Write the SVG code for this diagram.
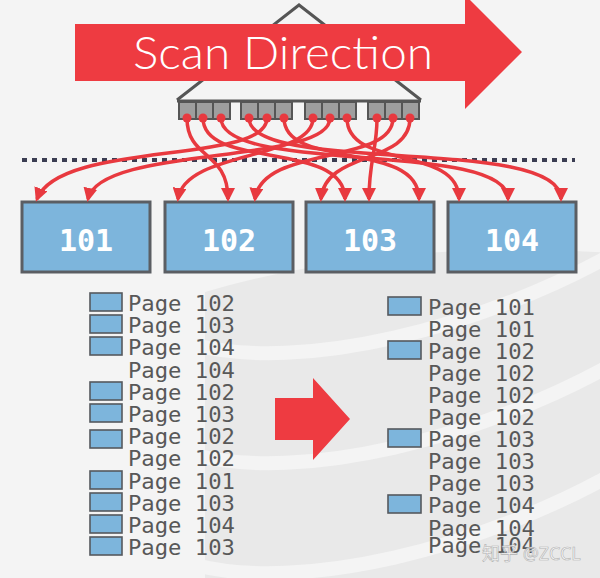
<svg xmlns="http://www.w3.org/2000/svg" width="600" height="578" viewBox="0 0 600 578">
<defs>
<style>
.slot{fill:#9e9e9e;stroke:#555;stroke-width:2}
.page{fill:#7db5dc;stroke:#5b5e63;stroke-width:3}
.plabel{font-family:"DejaVu Sans Mono",monospace;font-weight:bold;font-size:30px;fill:#fff;text-anchor:middle}
.row{font-family:"DejaVu Sans Mono",monospace;font-size:21px;fill:#585858}
.mini{fill:#7db5dc;stroke:#55595e;stroke-width:1.6}
.edge{fill:none;stroke:#e8393f;stroke-width:3.5}
.dot{fill:#e8393f}
</style>
<marker id="ah" markerUnits="userSpaceOnUse" markerWidth="14" markerHeight="14" refX="11" refY="7" orient="auto">
<path d="M0,0 L14,7 L0,14 z" fill="#e8393f"/>
</marker>
</defs>
<rect width="600" height="578" fill="#f4f4f4"/>
<g id="watermark-logo" fill="#e9e9e9">
<path d="M205,578 L205,292 Q400,235 640,255 L640,578 Z"/>
<path d="M195,345 C300,372 480,330 620,250" fill="none" stroke="#f4f4f4" stroke-width="14"/>
<path d="M195,455 C300,482 480,440 620,360" fill="none" stroke="#f4f4f4" stroke-width="14"/>
<path d="M195,565 C300,592 480,550 620,470" fill="none" stroke="#f4f4f4" stroke-width="14"/>
</g>
<g id="index-tree">
<polyline points="177,100 299,5 421,100" fill="none" stroke="#555" stroke-width="3"/>
<line x1="177" y1="101" x2="421" y2="101" stroke="#555" stroke-width="3"/>
<rect class="slot" x="179" y="102" width="17" height="17"/>
<rect class="slot" x="196" y="102" width="17" height="17"/>
<rect class="slot" x="213" y="102" width="17" height="17"/>
<rect class="slot" x="241" y="102" width="17" height="17"/>
<rect class="slot" x="258" y="102" width="17" height="17"/>
<rect class="slot" x="275" y="102" width="17" height="17"/>
<rect class="slot" x="305" y="102" width="17" height="17"/>
<rect class="slot" x="322" y="102" width="17" height="17"/>
<rect class="slot" x="339" y="102" width="17" height="17"/>
<rect class="slot" x="368" y="102" width="17" height="17"/>
<rect class="slot" x="385" y="102" width="17" height="17"/>
<rect class="slot" x="402" y="102" width="17" height="17"/>
</g>
<g id="scan-direction">
<polygon points="75,24 465,24 465,-5 522,52 465,109 465,81 75,81" fill="#ee3b41"/>
<text x="133" y="69" font-family="Lato, Open Sans, sans-serif" font-weight="300" font-size="46" fill="#fff" textLength="300" lengthAdjust="spacingAndGlyphs">Scan Direction</text>
</g>
<line id="divider" x1="22" y1="160" x2="575" y2="160" stroke="#3b3d52" stroke-width="4" stroke-dasharray="5 5"/>
<g id="page-101"><rect class="page" x="22" y="202" width="128" height="70"/><text class="plabel" x="86" y="251">101</text></g>
<g id="page-102"><rect class="page" x="165" y="202" width="128" height="70"/><text class="plabel" x="229" y="251">102</text></g>
<g id="page-103"><rect class="page" x="306" y="202" width="128" height="70"/><text class="plabel" x="370" y="251">103</text></g>
<g id="page-104"><rect class="page" x="448" y="202" width="128" height="70"/><text class="plabel" x="512" y="251">104</text></g>
<g id="connectors">
<path class="edge" marker-end="url(#ah)" d="M187,118 C187,160 228,150 228,199"/>
<path class="edge" marker-end="url(#ah)" d="M203,118 C203,170 345,140 345,199"/>
<path class="edge" marker-end="url(#ah)" d="M221,118 C221,175 508,140 508,199"/>
<path class="edge" marker-end="url(#ah)" d="M249,118 C249,175 561,135 561,199"/>
<path class="edge" marker-end="url(#ah)" d="M267,118 C267,165 60,140 37,199"/>
<path class="edge" marker-end="url(#ah)" d="M284,118 C284,170 419,140 419,199"/>
<path class="edge" marker-end="url(#ah)" d="M313,118 C313,160 185,150 178,199"/>
<path class="edge" marker-end="url(#ah)" d="M330,118 C330,165 100,145 88,199"/>
<path class="edge" marker-end="url(#ah)" d="M347,118 C347,170 459,145 459,199"/>
<path class="edge" marker-end="url(#ah)" d="M377,118 C377,150 369,160 369,199"/>
<path class="edge" marker-end="url(#ah)" d="M393,118 C393,165 262,145 255,199"/>
<path class="edge" marker-end="url(#ah)" d="M410,118 C410,165 325,150 321,199"/>
<circle class="dot" cx="187" cy="118" r="4.5"/><circle class="dot" cx="203" cy="118" r="4.5"/><circle class="dot" cx="221" cy="118" r="4.5"/>
<circle class="dot" cx="249" cy="118" r="4.5"/><circle class="dot" cx="267" cy="118" r="4.5"/><circle class="dot" cx="284" cy="118" r="4.5"/>
<circle class="dot" cx="313" cy="118" r="4.5"/><circle class="dot" cx="330" cy="118" r="4.5"/><circle class="dot" cx="347" cy="118" r="4.5"/>
<circle class="dot" cx="377" cy="118" r="4.5"/><circle class="dot" cx="393" cy="118" r="4.5"/><circle class="dot" cx="410" cy="118" r="4.5"/>
</g>
<g id="unsorted-list">
<rect class="mini" x="90" y="293" width="32" height="18"/><text class="row" x="128" y="311" textLength="107" lengthAdjust="spacingAndGlyphs">Page 102</text>
<rect class="mini" x="90" y="315" width="32" height="18"/><text class="row" x="128" y="333" textLength="107" lengthAdjust="spacingAndGlyphs">Page 103</text>
<rect class="mini" x="90" y="337" width="32" height="18"/><text class="row" x="128" y="355" textLength="107" lengthAdjust="spacingAndGlyphs">Page 104</text>
<text class="row" x="128" y="378" textLength="107" lengthAdjust="spacingAndGlyphs">Page 104</text>
<rect class="mini" x="90" y="382" width="32" height="18"/><text class="row" x="128" y="400" textLength="107" lengthAdjust="spacingAndGlyphs">Page 102</text>
<rect class="mini" x="90" y="404" width="32" height="18"/><text class="row" x="128" y="422" textLength="107" lengthAdjust="spacingAndGlyphs">Page 103</text>
<rect class="mini" x="90" y="430" width="32" height="18"/><text class="row" x="128" y="444" textLength="107" lengthAdjust="spacingAndGlyphs">Page 102</text>
<text class="row" x="128" y="466" textLength="107" lengthAdjust="spacingAndGlyphs">Page 102</text>
<rect class="mini" x="90" y="471" width="32" height="18"/><text class="row" x="128" y="489" textLength="107" lengthAdjust="spacingAndGlyphs">Page 101</text>
<rect class="mini" x="90" y="493" width="32" height="18"/><text class="row" x="128" y="511" textLength="107" lengthAdjust="spacingAndGlyphs">Page 103</text>
<rect class="mini" x="90" y="515" width="32" height="18"/><text class="row" x="128" y="533" textLength="107" lengthAdjust="spacingAndGlyphs">Page 104</text>
<rect class="mini" x="90" y="537" width="32" height="18"/><text class="row" x="128" y="555" textLength="107" lengthAdjust="spacingAndGlyphs">Page 103</text>
</g>
<polygon id="sort-arrow" points="275,398 313,398 313,378 350,419 313,460 313,440 275,440" fill="#ee3b41"/>
<g id="sorted-list">
<rect class="mini" x="388" y="297" width="33" height="18"/><text class="row" x="428" y="315" textLength="107" lengthAdjust="spacingAndGlyphs">Page 101</text>
<text class="row" x="428" y="337" textLength="107" lengthAdjust="spacingAndGlyphs">Page 101</text>
<rect class="mini" x="388" y="341" width="33" height="18"/><text class="row" x="428" y="359" textLength="107" lengthAdjust="spacingAndGlyphs">Page 102</text>
<text class="row" x="428" y="381" textLength="107" lengthAdjust="spacingAndGlyphs">Page 102</text>
<text class="row" x="428" y="403" textLength="107" lengthAdjust="spacingAndGlyphs">Page 102</text>
<text class="row" x="428" y="425" textLength="107" lengthAdjust="spacingAndGlyphs">Page 102</text>
<rect class="mini" x="388" y="429" width="33" height="18"/><text class="row" x="428" y="447" textLength="107" lengthAdjust="spacingAndGlyphs">Page 103</text>
<text class="row" x="428" y="469" textLength="107" lengthAdjust="spacingAndGlyphs">Page 103</text>
<text class="row" x="428" y="491" textLength="107" lengthAdjust="spacingAndGlyphs">Page 103</text>
<rect class="mini" x="388" y="495" width="33" height="18"/><text class="row" x="428" y="513" textLength="107" lengthAdjust="spacingAndGlyphs">Page 104</text>
<text class="row" x="428" y="536" textLength="107" lengthAdjust="spacingAndGlyphs">Page 104</text>
<text class="row" x="428" y="553" textLength="107" lengthAdjust="spacingAndGlyphs">Page 104</text>
</g>
<text id="credit" x="482" y="560" font-family="Noto Sans, Noto Sans CJK SC, sans-serif" font-size="18" fill="#fff" stroke="#aaa" stroke-width="0.6" opacity="0.9">知乎 @ZCCL</text>
</svg>
